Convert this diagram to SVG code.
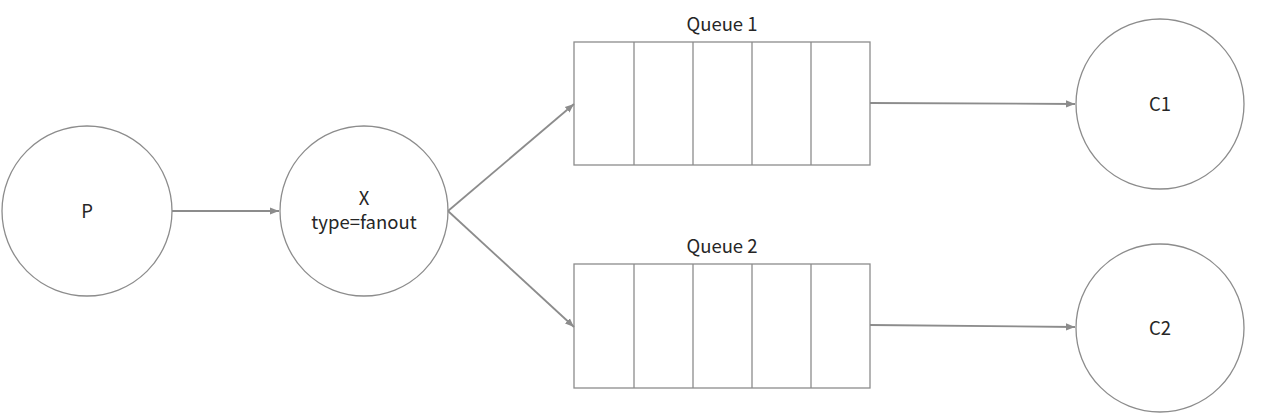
<svg xmlns="http://www.w3.org/2000/svg" width="1268" height="417" viewBox="0 0 1268 417">
<style>
.shape{fill:#fff;stroke:#8c8c8c;stroke-width:1.3}
.div{stroke:#8c8c8c;stroke-width:1.3}
.edge{stroke:#8c8c8c;stroke-width:1.8;fill:none}
text{font-family:"Noto Sans CJK SC","Noto Sans",sans-serif;font-size:18.5px;fill:#262626;text-anchor:middle}
</style>
<defs>
<marker id="arr" viewBox="0 0 10 10" refX="10" refY="5" markerWidth="5" markerHeight="5" orient="auto" markerUnits="strokeWidth">
<path d="M0,1 L10,5 L0,9 z" fill="#8c8c8c"/>
</marker>
</defs>
<rect width="1268" height="417" fill="#fff"/>
<g id="P"><ellipse class="shape" cx="87" cy="211" rx="85" ry="85"/><text x="87" y="218">P</text></g>
<g id="X"><ellipse class="shape" cx="364" cy="211" rx="84" ry="85"/><text x="364" y="205">X</text><text x="364" y="229">type=fanout</text></g>
<g id="Q1"><text x="722" y="31">Queue 1</text><rect class="shape" x="574" y="42" width="296" height="123"/>
<line class="div" x1="634" y1="42" x2="634" y2="165"/><line class="div" x1="693" y1="42" x2="693" y2="165"/><line class="div" x1="752" y1="42" x2="752" y2="165"/><line class="div" x1="811" y1="42" x2="811" y2="165"/></g>
<g id="Q2"><text x="722" y="253">Queue 2</text><rect class="shape" x="574" y="264" width="296" height="124"/>
<line class="div" x1="634" y1="264" x2="634" y2="388"/><line class="div" x1="693" y1="264" x2="693" y2="388"/><line class="div" x1="752" y1="264" x2="752" y2="388"/><line class="div" x1="811" y1="264" x2="811" y2="388"/></g>
<g id="C1"><ellipse class="shape" cx="1160" cy="104" rx="84" ry="85"/><text x="1160" y="111">C1</text></g>
<g id="C2"><ellipse class="shape" cx="1160" cy="328" rx="84" ry="84"/><text x="1160" y="335">C2</text></g>
<g id="connectors">
<line class="edge" x1="172" y1="211" x2="279" y2="211" marker-end="url(#arr)"/>
<line class="edge" x1="448" y1="211" x2="574" y2="104" marker-end="url(#arr)"/>
<line class="edge" x1="448" y1="211" x2="574" y2="327" marker-end="url(#arr)"/>
<line class="edge" x1="870" y1="103" x2="1075" y2="104" marker-end="url(#arr)"/>
<line class="edge" x1="870" y1="325" x2="1075" y2="327" marker-end="url(#arr)"/>
</g>
</svg>
